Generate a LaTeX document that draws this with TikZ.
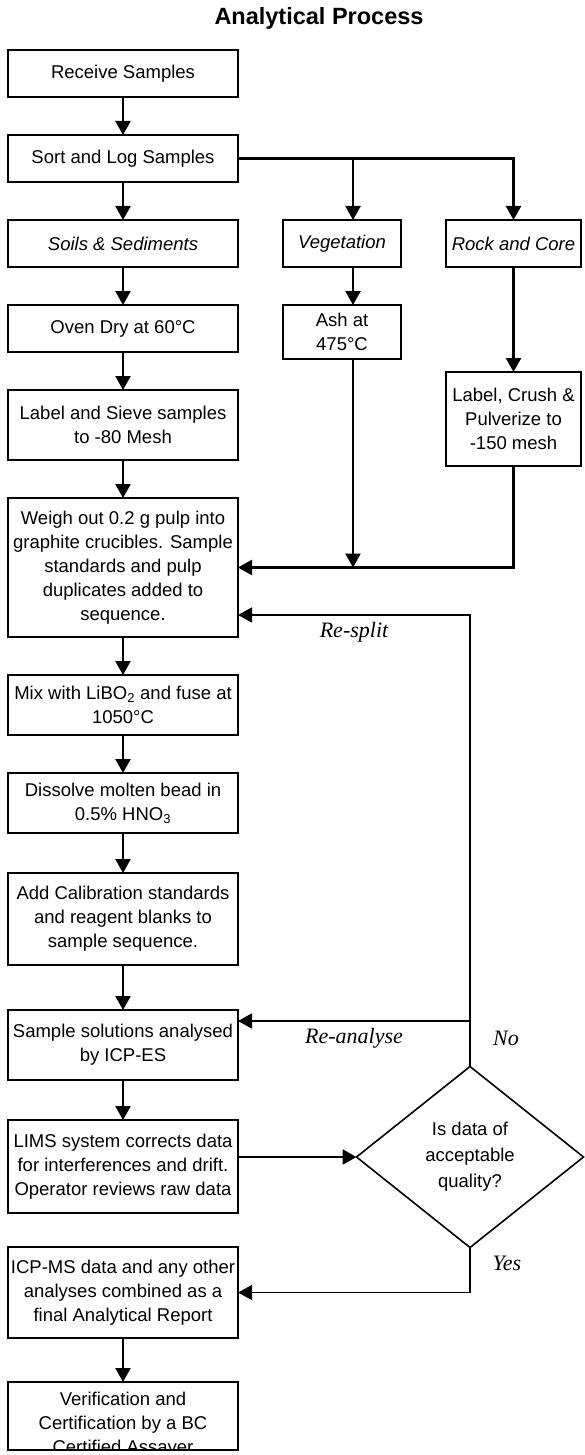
\documentclass[tikz,border=0pt]{standalone}
\usepackage{fontspec}
\setmainfont{Liberation Sans}
\newfontfamily\lblfont{Liberation Serif}
\usetikzlibrary{arrows.meta,shapes.geometric}

\begin{document}
\begin{tikzpicture}[x=1pt, y=-1pt, line join=miter,
    box/.style={draw, line width=2.4pt, minimum width=230pt, outer sep=0pt, inner sep=3pt, align=center, font=\fontsize{18.5}{24}\selectfont},
    kind/.style={box, font=\fontsize{18.5}{24}\selectfont\itshape},
    check/.style={diamond, draw, line width=1.6pt, minimum width=227pt, minimum height=181pt, inner sep=0pt, outer sep=0pt, align=center, font=\fontsize{18.5}{26}\selectfont},
    note/.style={font=\fontsize{22}{24}\selectfont\lblfont\itshape},
    flow/.style={-{Triangle[length=14pt,width=15pt]}, line width=2.4pt},
    back/.style={flow, line width=1.7pt}]

  % canvas (fixed size)
  \fill[white] (0,0) rectangle (583,1455);
  \node[anchor=base, font=\fontsize{23.5}{26}\selectfont\bfseries] (title) at (319,25) {Analytical Process};

  % ---------------- intake and sorting
  \node[box, minimum height=47pt] (rcv) at (123,73.5) {Receive Samples};
  \node[box, minimum height=47pt] (sort) at (123,158.5) {Sort and Log Samples};

  % ---------------- three sample kinds
  \node[kind, minimum height=47pt] (soil) at (123,243.5) {Soils \& Sediments};
  \node[kind, minimum width=118pt, minimum height=47pt] (veg) at (342,243.5) {Vegetation};
  \node[kind, minimum width=135pt, minimum height=47pt] (rock) at (513.5,243.5) {Rock and Core};

  % ---------------- preparation
  \node[box, minimum height=47pt] (oven) at (123,328.5) {Oven Dry at 60°C};
  \node[box, minimum width=118pt, minimum height=54pt] (ash) at (342,332) {Ash at\\475°C};
  \node[box, minimum height=70pt] (sieve) at (123,425) {Label and Sieve samples\\to -80 Mesh};
  \node[box, minimum width=135pt, minimum height=94pt] (crush) at (513.5,419) {Label, Crush \&\\Pulverize to\\-150 mesh};
  \node[box, minimum height=139pt] (weigh) at (123,567.5) {Weigh out 0.2 g pulp into\\graphite crucibles. Sample\\standards and pulp\\duplicates added to\\sequence.};

  % ---------------- fusion and analysis
  \node[box, minimum height=60pt] (mix) at (123,705) {Mix with LiBO\textsubscript{2} and fuse at\\1050°C};
  \node[box, minimum height=60pt] (dis) at (123,803) {Dissolve molten bead in\\0.5\% HNO\textsubscript{3}};
  \node[box, minimum height=92pt] (cal) at (123,919) {Add Calibration standards\\and reagent blanks to\\sample sequence.};
  \node[box, minimum height=70pt] (icpes) at (123,1045) {Sample solutions analysed\\by ICP-ES};
  \node[box, minimum height=93pt] (lims) at (123,1166.5) {LIMS system corrects data\\for interferences and drift.\\Operator reviews raw data};
  \node[check] (dq) at (470,1157) {Is data of\\acceptable\\quality?};

  % ---------------- reporting
  \node[box, minimum height=91pt] (icpms) at (123,1292.5) {ICP-MS data and any other\\analyses combined as a\\final Analytical Report};
  \node[box, minimum height=68pt] (verif) at (123,1416) {};
  \begin{scope}
    \clip (verif.north west) rectangle (verif.south east);
    \node[align=center, font=\fontsize{18.5}{24}\selectfont] (verifTxt) at ([yshift=-9pt]verif.center)
         {Verification and\\Certification by a BC\\Certified Assayer};
  \end{scope}

  % ---------------- flow arrows
  \draw[flow] (rcv) -- (sort);
  \draw[flow] (sort) -- (soil);
  \draw[flow] (sort.east) -| (rock.north);
  \draw[flow] ([xshift=11pt]veg.north |- sort.east) -- ([xshift=11pt]veg.north);
  \draw[flow] ([xshift=11pt]veg.south) -- ([xshift=11pt]ash.north);
  \draw[flow] ([xshift=11pt]ash.south) -- ([xshift=11pt]ash.south |- weigh.east);
  \draw[flow] (rock) -- (crush);
  \draw[flow] (crush.south) |- (weigh.east);
  \foreach \a/\b in {soil/oven, oven/sieve, sieve/weigh, weigh/mix, mix/dis, dis/cal, cal/icpes, icpes/lims, icpms/verif}
    \draw[flow] (\a) -- (\b);
  \draw[flow] (lims.east |- dq.west) -- (dq.west);

  % ---------------- decision outcomes
  \draw[back] (dq.north) |- ([yshift=-47.5pt]weigh.east);
  \draw[back] ([yshift=24pt]icpes.east -| dq.north) -- ([yshift=24pt]icpes.east);
  \draw[back] (dq.south) |- (icpms.east);
  \node[note] (resplit) at (354,632) {Re-split};
  \node[note] (reanal) at (354,1038) {Re-analyse};
  \node[note] (no) at (506,1038) {No};
  \node[note] (yes) at (507,1263) {Yes};
\end{tikzpicture}
\end{document}
